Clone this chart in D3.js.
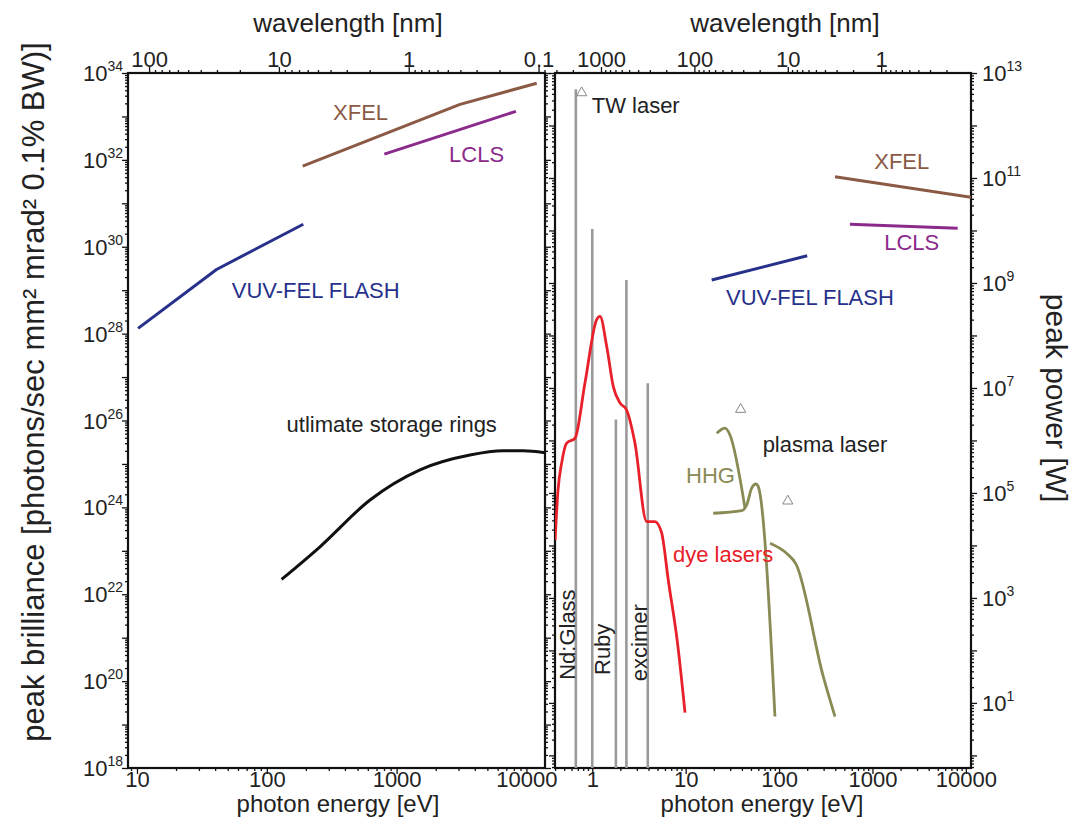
<!DOCTYPE html>
<html><head><meta charset="utf-8">
<script src="https://cdn.jsdelivr.net/npm/d3@7"></script>
<style>
body{margin:0;background:#fff;}
svg text{font-family:"Liberation Sans",Arial,Helvetica,sans-serif;fill:#222;}
</style></head><body>
<svg id="chart" width="1073" height="818"></svg>
<script>
// ---------- data (photon energy in eV) ----------
// left panel: peak brilliance
const flashBrillE = [10.2, 41, 191];
const flashBrill  = [1.32e28, 3.0e29, 3.3e30];
const xfelBrillE  = [189, 3080, 12000];
const xfelBrill   = [7.2e31, 1.9e33, 5.8e33];
const lclsBrillE  = [804, 8300];
const lclsBrill   = [1.36e32, 1.31e33];
const ringE       = [130, 257, 624, 1514, 3675, 6600, 9420, 13900];
const ringBrill   = [2.2e22, 1.24e23, 1.48e24, 7.3e24, 1.6e25, 2.0e25, 2.0e25, 1.8e25];
// right panel: peak power [W]
const flashPowerE = [19, 200];
const flashPower  = [1.14e9, 3.3e9];
const xfelPowerE  = [397, 11350];
const xfelPower   = [1.06e11, 4.3e10];
const lclsPowerE  = [573, 8170];
const lclsPower   = [1.31e10, 1.1e10];
const dyeE = [0.40, 0.43, 0.47, 0.532, 0.653, 0.836, 1.114, 1.21, 1.43, 1.68, 1.98, 2.33, 2.86, 3.82, 4.69, 5.53, 6.51, 8.2, 9.84];
const dyeP = [1.27e4, 1.14e5, 3.7e5, 8.9e5, 1.1e6, 1.25e7, 2.0e8, 2.3e8, 6.1e7, 1.06e7, 5.2e6, 3.8e6, 9.0e5, 2.84e4, 2.84e4, 1.73e4, 2.2e3, 133, 6.5];
const hhgAE = [21.5, 26.4, 29.8, 43.2];
const hhgAP = [1.37e6, 1.71e6, 1.27e6, 5.1e4];
const hhgBE = [19.7, 39.8, 45, 50.9, 56.6, 59.9, 90.4];
const hhgBP = [4.1e4, 4.6e4, 5.9e4, 1.23e5, 1.48e5, 1.32e5, 5.5];
const plasmaE = [80, 120, 152, 297, 397];
const plasmaP = [1.1e4, 7.1e3, 4.4e3, 32, 5.5];
const laserLineE = [0.667, 1.0, 1.79, 2.32, 3.93];
const laserLineP = [4.9e12, 1.07e10, 2.5e6, 1.14e9, 1.23e7];
const triangleE = [0.77, 38.8, 124];
const triangleP = [4.2e12, 3.9e6, 7.0e4];
// tick labels
const energyLabelsL = [10, 100, 1000, 10000];
const energyLabelsR = [1, 10, 100, 1000, 10000];
const waveLabelsL = [100, 10, 1, 0.1];
const waveLabelsR = [1000, 100, 10, 1];
const brillExpLabels = [18, 20, 22, 24, 26, 28, 30, 32, 34];
const powerExpLabels = [1, 3, 5, 7, 9, 11, 13];

// ---------- layout ----------
const hc = 1239.84;
const pT = 73, pB = 768;
const L0 = 128, L1 = 545, R0 = 555, R1 = 971;
const C = {xfel:"#8b5a45", lcls:"#8c2a8c", flash:"#27318b", ring:"#111", dye:"#e8202a", hhg:"#8a8a55", gray:"#9a9a9a"};

const svg = d3.select("#chart");
const xL = d3.scaleLog().domain([8.53, 13900]).range([L0, L1]);
const xR = d3.scaleLog().domain([0.399, 11350]).range([R0, R1]);
const yL = d3.scaleLog().domain([1e18, 1e34]).range([pB, pT]);
const yR = d3.scaleLog().domain([Math.pow(10,-0.24), 1e13]).range([pB, pT]);
const wL = d3.scaleLog().domain([hc/8.53, hc/13900]).range([L0, L1]);
const wR = d3.scaleLog().domain([hc/0.399, hc/11350]).range([R0, R1]);

function allTicks(scale){
  const [a,b] = d3.extent(scale.domain());
  const major=[], minor=[];
  for (let e=Math.floor(Math.log10(a)); e<=Math.ceil(Math.log10(b)); e++){
    for (let m=1;m<=9;m++){
      const v = +(m*Math.pow(10,e)).toPrecision(6);
      if (v>=a*0.9999 && v<=b*1.0001) (m===1?major:minor).push(v);
    }
  }
  return {major, minor};
}
function tickAxis(axisFn, scale, tx, ty, majLen, minLen){
  const t = allTicks(scale);
  [[t.minor,minLen],[t.major,majLen]].forEach(([vals,len])=>{
    const g = svg.append("g").attr("transform",`translate(${tx},${ty})`)
      .call(axisFn(scale).tickValues(vals).tickSize(-len).tickFormat(""));
    g.select(".domain").remove();
    g.selectAll(".tick line").attr("stroke","#111").attr("stroke-width",1.3);
  });
}
// ticks: left panel
tickAxis(d3.axisRight, yL, L0, 0, 6, 3);
tickAxis(d3.axisLeft, yL, L1, 0, 6, 3);
tickAxis(d3.axisTop, xL, 0, pB, 6, 3);
tickAxis(d3.axisBottom, wL, 0, pT, 6, 3);
// ticks: right panel
tickAxis(d3.axisRight, yR, R0, 0, 6, 3);
tickAxis(d3.axisLeft, yR, R1, 0, 6, 3);
tickAxis(d3.axisTop, xR, 0, pB, 6, 3);
tickAxis(d3.axisBottom, wR, 0, pT, 6, 3);

// frames
[[L0,L1],[R0,R1]].forEach(([a,b])=>{
  svg.append("rect").attr("x",a).attr("y",pT).attr("width",b-a).attr("height",pB-pT)
    .attr("fill","none").attr("stroke","#111").attr("stroke-width",2.2);
});

// x labels (energy bottom, wavelength top)
function labelAxis(axisFn, scale, vals, ty, pad){
  const g = svg.append("g").attr("transform",`translate(0,${ty})`)
    .call(axisFn(scale).tickValues(vals).tickSize(0).tickPadding(pad).tickFormat(d3.format("~g")));
  g.select(".domain").remove();
  g.selectAll("text").attr("font-size",22).attr("font-family",null).attr("fill","#222");
}
labelAxis(d3.axisBottom, xL, energyLabelsL, pB, 3);
labelAxis(d3.axisBottom, xR, energyLabelsR, pB, 3);
labelAxis(d3.axisTop, wL, waveLabelsL, pT, 6);
labelAxis(d3.axisTop, wR, waveLabelsR, pT, 6);

// y labels with superscripts
function powLabel(x, y, exp, anchor){
  const t = svg.append("text").attr("x",x).attr("y",y+8).attr("text-anchor",anchor).attr("font-size",22);
  t.append("tspan").text("10");
  t.append("tspan").attr("dy",-10).attr("font-size",14).text(exp);
}
brillExpLabels.forEach(e=>powLabel(L0-5, yL(Math.pow(10,e)), e, "end"));
powerExpLabels.forEach(e=>powLabel(R1+11, yR(Math.pow(10,e)), e, "start"));

// axis titles
svg.append("text").attr("x",348).attr("y",32).attr("text-anchor","middle").attr("font-size",26).text("wavelength [nm]");
svg.append("text").attr("x",785).attr("y",32).attr("text-anchor","middle").attr("font-size",26).text("wavelength [nm]");
svg.append("text").attr("x",338).attr("y",812).attr("text-anchor","middle").attr("font-size",24).text("photon energy [eV]");
svg.append("text").attr("x",762).attr("y",812).attr("text-anchor","middle").attr("font-size",24).text("photon energy [eV]");
svg.append("text").attr("transform","translate(44,392) rotate(-90)").attr("text-anchor","middle").attr("font-size",31)
  .text("peak brilliance [photons/sec mm² mrad² 0.1% BW)]");
svg.append("text").attr("transform","translate(1046,398) rotate(90)").attr("text-anchor","middle").attr("font-size",30)
  .text("peak power [W]");

// clip paths
const defs = svg.append("defs");
defs.append("clipPath").attr("id","clipL").append("rect").attr("x",L0).attr("y",pT).attr("width",L1-L0).attr("height",pB-pT);
defs.append("clipPath").attr("id","clipR").append("rect").attr("x",R0).attr("y",pT).attr("width",R1-R0).attr("height",pB-pT);
const gL = svg.append("g").attr("clip-path","url(#clipL)");
const gR = svg.append("g").attr("clip-path","url(#clipR)");

function series(g, xs, ys, E, V, color, w, curve){
  const data = E.map((e,i)=>[e,V[i]]);
  g.append("path").datum(data)
    .attr("d", d3.line().x(d=>xs(d[0])).y(d=>ys(d[1])).curve(curve||d3.curveLinear))
    .attr("fill","none").attr("stroke",color).attr("stroke-width",w).attr("stroke-linejoin","round").attr("stroke-linecap","butt");
}
// left panel curves
series(gL, xL, yL, flashBrillE, flashBrill, C.flash, 3);
series(gL, xL, yL, xfelBrillE, xfelBrill, C.xfel, 3);
series(gL, xL, yL, lclsBrillE, lclsBrill, C.lcls, 3);
series(gL, xL, yL, ringE, ringBrill, C.ring, 3, d3.curveMonotoneX);

// right panel: laser lines
gR.selectAll("line.laser").data(laserLineE.map((e,i)=>[e,laserLineP[i]])).join("line")
  .attr("x1",d=>xR(d[0])).attr("x2",d=>xR(d[0])).attr("y1",d=>yR(d[1])).attr("y2",pB)
  .attr("stroke",C.gray).attr("stroke-width",2.6);
series(gR, xR, yR, dyeE, dyeP, C.dye, 2.8, d3.curveMonotoneX);
series(gR, xR, yR, hhgAE, hhgAP, C.hhg, 2.8, d3.curveMonotoneX);
series(gR, xR, yR, hhgBE, hhgBP, C.hhg, 2.8, d3.curveMonotoneX);
series(gR, xR, yR, plasmaE, plasmaP, C.hhg, 2.8, d3.curveMonotoneX);
series(gR, xR, yR, flashPowerE, flashPower, C.flash, 3);
series(gR, xR, yR, xfelPowerE, xfelPower, C.xfel, 3);
series(gR, xR, yR, lclsPowerE, lclsPower, C.lcls, 3);
gR.selectAll("path.tri").data(triangleE.map((e,i)=>[e,triangleP[i]])).join("path")
  .attr("transform",d=>`translate(${xR(d[0])},${yR(d[1])})`)
  .attr("d", d3.symbol(d3.symbolTriangle, 45))
  .attr("fill","none").attr("stroke","#888").attr("stroke-width",1);

// annotations
function note(xs, ys, e, v, txt, color, anchor, rot){
  const t = svg.append("text").attr("font-size",22).attr("text-anchor",anchor||"start").style("fill",color||"#222").text(txt);
  if (rot) t.attr("transform",`translate(${xs(e)},${ys(v)}) rotate(${rot})`);
  else t.attr("x",xs(e)).attr("y",ys(v));
}
note(xL, yL, 324, 8.3e32, "XFEL", C.xfel);
note(xL, yL, 2535, 9.1e31, "LCLS", C.lcls);
note(xL, yL, 53.7, 6.5e28, "VUV-FEL FLASH", C.flash);
note(xL, yL, 142, 5.4e25, "utlimate storage rings", "#222");
note(xR, yR, 1045, 1.47e11, "XFEL", C.xfel);
note(xR, yR, 1337, 4.3e9, "LCLS", C.lcls);
note(xR, yR, 27, 3.8e8, "VUV-FEL FLASH", C.flash);
note(xR, yR, 66.7, 6.1e5, "plasma laser", "#222");
note(xR, yR, 33.7, 1.53e5, "HHG", C.hhg, "end");
note(xR, yR, 86.7, 4.9e3, "dye lasers", C.dye, "end");
note(xR, yR, 0.986, 1.7e12, "TW laser", "#222");
note(xR, yR, 0.653, 27.5, "Nd:Glass", "#222", "start", -90);
note(xR, yR, 1.55, 34, "Ruby", "#222", "start", -90);
note(xR, yR, 3.85, 26, "excimer", "#222", "start", -90);
</script>
</body></html>
